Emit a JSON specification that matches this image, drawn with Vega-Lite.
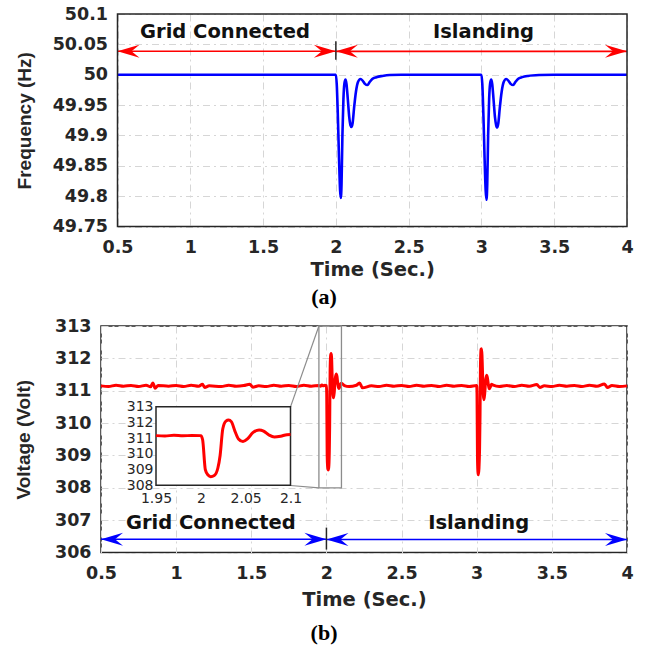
{
  "$schema": "https://vega.github.io/schema/vega-lite/v6.json",
  "background": "white",
  "padding": {"left": 14, "top": 5, "right": 8, "bottom": 5},
  "datasets": {
    "freq": [
      {"t": 0.5, "f": 50.0}, {"t": 2.0, "f": 50.0}, {"t": 2.006, "f": 49.985}, {"t": 2.014, "f": 49.93},
      {"t": 2.022, "f": 49.86}, {"t": 2.029, "f": 49.81}, {"t": 2.034, "f": 49.797}, {"t": 2.039, "f": 49.82},
      {"t": 2.045, "f": 49.9}, {"t": 2.052, "f": 49.96}, {"t": 2.059, "f": 49.986}, {"t": 2.066, "f": 49.992},
      {"t": 2.073, "f": 49.985}, {"t": 2.082, "f": 49.96}, {"t": 2.092, "f": 49.93}, {"t": 2.1, "f": 49.917},
      {"t": 2.107, "f": 49.914}, {"t": 2.115, "f": 49.92}, {"t": 2.125, "f": 49.945}, {"t": 2.138, "f": 49.972},
      {"t": 2.152, "f": 49.988}, {"t": 2.169, "f": 49.993}, {"t": 2.185, "f": 49.99}, {"t": 2.2, "f": 49.985},
      {"t": 2.217, "f": 49.983}, {"t": 2.232, "f": 49.988}, {"t": 2.25, "f": 49.993}, {"t": 2.279, "f": 49.996},
      {"t": 2.32, "f": 49.998}, {"t": 2.37, "f": 49.9995}, {"t": 2.45, "f": 50.0}, {"t": 3.0, "f": 50.0},
      {"t": 3.006, "f": 49.985}, {"t": 3.014, "f": 49.93}, {"t": 3.022, "f": 49.86}, {"t": 3.029, "f": 49.81},
      {"t": 3.035, "f": 49.794}, {"t": 3.04, "f": 49.82}, {"t": 3.046, "f": 49.9}, {"t": 3.053, "f": 49.96},
      {"t": 3.06, "f": 49.986}, {"t": 3.067, "f": 49.992}, {"t": 3.074, "f": 49.985}, {"t": 3.083, "f": 49.96},
      {"t": 3.093, "f": 49.93}, {"t": 3.101, "f": 49.917}, {"t": 3.108, "f": 49.913}, {"t": 3.116, "f": 49.92},
      {"t": 3.126, "f": 49.945}, {"t": 3.139, "f": 49.972}, {"t": 3.153, "f": 49.988}, {"t": 3.17, "f": 49.993},
      {"t": 3.186, "f": 49.99}, {"t": 3.201, "f": 49.985}, {"t": 3.218, "f": 49.983}, {"t": 3.233, "f": 49.988},
      {"t": 3.251, "f": 49.993}, {"t": 3.28, "f": 49.996}, {"t": 3.32, "f": 49.998}, {"t": 3.4, "f": 49.9995},
      {"t": 3.5, "f": 50.0}, {"t": 4.0, "f": 50.0}
    ],
    "volt": [
      {"t": 0.5, "v": 311.15}, {"t": 0.55, "v": 311.13}, {"t": 0.6, "v": 311.17}, {"t": 0.65, "v": 311.14},
      {"t": 0.7, "v": 311.16}, {"t": 0.75, "v": 311.13}, {"t": 0.8, "v": 311.17}, {"t": 0.83, "v": 311.12},
      {"t": 0.845, "v": 311.24}, {"t": 0.86, "v": 311.08}, {"t": 0.88, "v": 311.16}, {"t": 0.95, "v": 311.14},
      {"t": 1.0, "v": 311.16}, {"t": 1.05, "v": 311.13}, {"t": 1.1, "v": 311.17}, {"t": 1.15, "v": 311.14},
      {"t": 1.175, "v": 311.2}, {"t": 1.19, "v": 311.1}, {"t": 1.22, "v": 311.15}, {"t": 1.3, "v": 311.13},
      {"t": 1.35, "v": 311.17}, {"t": 1.4, "v": 311.14}, {"t": 1.45, "v": 311.16}, {"t": 1.49, "v": 311.2},
      {"t": 1.51, "v": 311.11}, {"t": 1.55, "v": 311.15}, {"t": 1.6, "v": 311.13}, {"t": 1.65, "v": 311.17},
      {"t": 1.7, "v": 311.14}, {"t": 1.75, "v": 311.16}, {"t": 1.8, "v": 311.13}, {"t": 1.85, "v": 311.17},
      {"t": 1.9, "v": 311.14}, {"t": 1.95, "v": 311.16}, {"t": 1.96, "v": 311.14}, {"t": 1.97, "v": 311.18},
      {"t": 1.98, "v": 311.15}, {"t": 1.99, "v": 311.17}, {"t": 2.0, "v": 311.16},
      {"t": 2.002, "v": 310.9}, {"t": 2.005, "v": 309.0}, {"t": 2.008, "v": 308.65}, {"t": 2.011, "v": 308.55},
      {"t": 2.015, "v": 308.62}, {"t": 2.019, "v": 309.1}, {"t": 2.0215, "v": 309.9}, {"t": 2.0245, "v": 311.6},
      {"t": 2.028, "v": 312.08}, {"t": 2.031, "v": 312.15}, {"t": 2.034, "v": 312.05}, {"t": 2.038, "v": 311.45},
      {"t": 2.042, "v": 310.95}, {"t": 2.047, "v": 310.78}, {"t": 2.052, "v": 310.95}, {"t": 2.058, "v": 311.35},
      {"t": 2.065, "v": 311.52}, {"t": 2.07, "v": 311.45}, {"t": 2.076, "v": 311.2}, {"t": 2.082, "v": 311.07},
      {"t": 2.089, "v": 311.12}, {"t": 2.096, "v": 311.22}, {"t": 2.1, "v": 311.23}, {"t": 2.12, "v": 311.16},
      {"t": 2.15, "v": 311.13}, {"t": 2.2, "v": 311.17}, {"t": 2.22, "v": 311.24}, {"t": 2.24, "v": 311.09},
      {"t": 2.3, "v": 311.15}, {"t": 2.35, "v": 311.13}, {"t": 2.4, "v": 311.17}, {"t": 2.45, "v": 311.14},
      {"t": 2.5, "v": 311.16}, {"t": 2.55, "v": 311.13}, {"t": 2.6, "v": 311.17}, {"t": 2.65, "v": 311.14},
      {"t": 2.7, "v": 311.16}, {"t": 2.75, "v": 311.13}, {"t": 2.8, "v": 311.17}, {"t": 2.85, "v": 311.14},
      {"t": 2.9, "v": 311.16}, {"t": 2.95, "v": 311.13}, {"t": 3.0, "v": 311.16},
      {"t": 3.002, "v": 310.9}, {"t": 3.005, "v": 309.0}, {"t": 3.008, "v": 308.5}, {"t": 3.011, "v": 308.4},
      {"t": 3.015, "v": 308.6}, {"t": 3.019, "v": 309.2}, {"t": 3.022, "v": 310.2}, {"t": 3.025, "v": 311.8},
      {"t": 3.029, "v": 312.28}, {"t": 3.032, "v": 312.3}, {"t": 3.035, "v": 312.1}, {"t": 3.039, "v": 311.5},
      {"t": 3.043, "v": 310.9}, {"t": 3.048, "v": 310.72}, {"t": 3.053, "v": 310.9}, {"t": 3.059, "v": 311.3},
      {"t": 3.066, "v": 311.48}, {"t": 3.071, "v": 311.4}, {"t": 3.077, "v": 311.2}, {"t": 3.084, "v": 311.06},
      {"t": 3.091, "v": 311.12}, {"t": 3.098, "v": 311.2}, {"t": 3.11, "v": 311.17}, {"t": 3.15, "v": 311.13},
      {"t": 3.2, "v": 311.16}, {"t": 3.25, "v": 311.13}, {"t": 3.3, "v": 311.17}, {"t": 3.35, "v": 311.14},
      {"t": 3.4, "v": 311.19}, {"t": 3.42, "v": 311.1}, {"t": 3.45, "v": 311.15}, {"t": 3.5, "v": 311.13},
      {"t": 3.55, "v": 311.17}, {"t": 3.6, "v": 311.14}, {"t": 3.65, "v": 311.16}, {"t": 3.7, "v": 311.13},
      {"t": 3.75, "v": 311.17}, {"t": 3.8, "v": 311.14}, {"t": 3.85, "v": 311.21}, {"t": 3.87, "v": 311.1},
      {"t": 3.9, "v": 311.16}, {"t": 3.95, "v": 311.13}, {"t": 4.0, "v": 311.15}
    ],
    "frameA": [{"x1": 0.5, "x2": 4, "y1": 49.75, "y2": 50.1}],
    "arrowsA": [{"x1": 0.5, "x2": 2, "y": 50.0387}, {"x1": 2, "x2": 4, "y": 50.0385}],
    "headsA": [
      {"t": 0.5, "v": 50.0387, "dir": "left"}, {"t": 2, "v": 50.0387, "dir": "right"},
      {"t": 2, "v": 50.0385, "dir": "left"}, {"t": 4, "v": 50.0385, "dir": "right"}
    ],
    "dividerA": [{"t": 2, "v1": 50.0246, "v2": 50.0552}],
    "labelsA": [{"t": 1.238, "v": 50.071, "label": "Grid Connected"}, {"t": 3.014, "v": 50.071, "label": "Islanding"}],
    "arrowsB": [{"x1": 0.5, "x2": 2, "y": 306.41}, {"x1": 2, "x2": 4, "y": 306.4}],
    "headsB": [
      {"t": 0.5, "v": 306.41, "dir": "left"}, {"t": 2, "v": 306.41, "dir": "right"},
      {"t": 2, "v": 306.4, "dir": "left"}, {"t": 4, "v": 306.4, "dir": "right"}
    ],
    "dividerB": [{"t": 2, "v1": 306.09, "v2": 306.77}],
    "labelsB": [{"t": 1.231, "v": 306.907, "label": "Grid Connected"}, {"t": 3.013, "v": 306.907, "label": "Islanding"}],
    "zoomBox": [{"x1": 1.95, "x2": 2.1, "y1": 308, "y2": 313}],
    "connectors": [{"x1": 1.95, "y1": 313, "x2": 1.761, "y2": 310.5}, {"x1": 1.95, "y1": 308, "x2": 1.761, "y2": 308.07}]
  },
  "concat": [
    {
      "width": 526,
      "height": 212.5,
      "view": {"stroke": null},
      "title": {"text": "(a)", "orient": "bottom", "font": "Liberation Serif", "fontSize": 22, "fontWeight": "bold", "color": "#000000", "anchor": "middle", "frame": "bounds", "offset": 8},
      "layer": [
        {
          "data": {"name": "freq"},
          "mark": {"type": "line", "color": "#0000ff", "strokeWidth": 2.6, "interpolate": "monotone"},
          "encoding": {
            "x": {"field": "t", "type": "quantitative", "scale": {"domain": [0.5, 4], "range": [16.5, 526], "nice": false, "zero": false},
                  "axis": {"title": "Time (Sec.)", "values": [0.5, 1, 1.5, 2, 2.5, 3, 3.5, 4], "tickCount": 20, "format": "~g", "labelOverlap": false, "labelFlush": false, "titlePadding": 4}},
            "y": {"field": "f", "type": "quantitative", "scale": {"domain": [49.75, 50.1], "nice": false, "zero": false},
                  "axis": {"title": "Frequency (Hz)", "offset": -16.5, "values": [49.75, 49.8, 49.85, 49.9, 49.95, 50, 50.05, 50.1], "tickCount": 20, "format": "~g", "labelOverlap": false, "titlePadding": 18}}
          }
        },
        {
          "data": {"name": "arrowsA"},
          "mark": {"type": "rule", "color": "#ff0000", "strokeWidth": 1.6},
          "encoding": {"x": {"field": "x1", "type": "quantitative"}, "x2": {"field": "x2"}, "y": {"field": "y", "type": "quantitative"}}
        },
        {
          "data": {"name": "dividerA"},
          "mark": {"type": "rule", "color": "#262626", "strokeWidth": 1.5},
          "encoding": {"x": {"field": "t", "type": "quantitative"}, "y": {"field": "v1", "type": "quantitative"}, "y2": {"field": "v2"}}
        },
        {
          "data": {"name": "headsA"},
          "mark": {"type": "point", "filled": true, "color": "#ff0000", "opacity": 1, "size": 4, "strokeWidth": 0},
          "encoding": {
            "x": {"field": "t", "type": "quantitative"},
            "y": {"field": "v", "type": "quantitative"},
            "shape": {"field": "dir", "type": "nominal", "legend": null,
                      "scale": {"domain": ["left", "right"], "range": ["M0,0L22,-6.5L14,0L22,6.5Z", "M0,0L-22,-6.5L-14,0L-22,6.5Z"]}}
          }
        },
        {
          "data": {"name": "labelsA"},
          "mark": {"type": "text", "font": "DejaVu Sans", "fontWeight": "bold", "fontSize": 19.5, "color": "#111111", "align": "center", "baseline": "middle"},
          "encoding": {"x": {"field": "t", "type": "quantitative"}, "y": {"field": "v", "type": "quantitative"}, "text": {"field": "label"}}
        },
        {
          "data": {"name": "frameA"},
          "mark": {"type": "rect", "fill": null, "fillOpacity": 0, "stroke": "#262626", "strokeWidth": 1.5},
          "encoding": {"x": {"field": "x1", "type": "quantitative"}, "x2": {"field": "x2"}, "y": {"field": "y1", "type": "quantitative"}, "y2": {"field": "y2"}}
        }
      ]
    },
    {
      "width": 526,
      "height": 226.5,
      "title": {"text": "(b)", "orient": "bottom", "font": "Liberation Serif", "fontSize": 22, "fontWeight": "bold", "color": "#000000", "anchor": "middle", "frame": "bounds", "offset": 14},
      "layer": [
        {
          "layer": [
            {
              "data": {"name": "volt"},
              "mark": {"type": "line", "color": "#ff0000", "strokeWidth": 3, "interpolate": "monotone"},
              "encoding": {
                "x": {"field": "t", "type": "quantitative", "scale": {"domain": [0.5, 4], "nice": false, "zero": false},
                      "axis": {"title": "Time (Sec.)", "orient": "bottom", "values": [0.5, 1, 1.5, 2, 2.5, 3, 3.5, 4], "tickCount": 20, "format": "~g", "labelOverlap": false, "labelFlush": false, "titlePadding": 8.5}},
                "y": {"field": "v", "type": "quantitative", "scale": {"domain": [306, 313], "nice": false, "zero": false},
                      "axis": {"title": "Voltage (Volt)", "orient": "left", "values": [306, 307, 308, 309, 310, 311, 312, 313], "tickCount": 20, "format": "~g", "labelOverlap": false, "titlePadding": 20.5}}
              }
            },
            {
              "data": {"name": "zoomBox"},
              "mark": {"type": "rect", "fill": null, "fillOpacity": 0, "stroke": "#8c8c8c", "strokeWidth": 1.3},
              "encoding": {"x": {"field": "x1", "type": "quantitative"}, "x2": {"field": "x2"}, "y": {"field": "y1", "type": "quantitative"}, "y2": {"field": "y2"}}
            },
            {
              "data": {"name": "connectors"},
              "mark": {"type": "rule", "color": "#8c8c8c", "strokeWidth": 1.2},
              "encoding": {"x": {"field": "x1", "type": "quantitative"}, "x2": {"field": "x2"}, "y": {"field": "y1", "type": "quantitative"}, "y2": {"field": "y2"}}
            },
            {
              "data": {"name": "arrowsB"},
              "mark": {"type": "rule", "color": "#0000ff", "strokeWidth": 1.6},
              "encoding": {"x": {"field": "x1", "type": "quantitative"}, "x2": {"field": "x2"}, "y": {"field": "y", "type": "quantitative"}}
            },
            {
              "data": {"name": "dividerB"},
              "mark": {"type": "rule", "color": "#262626", "strokeWidth": 1.5},
              "encoding": {"x": {"field": "t", "type": "quantitative"}, "y": {"field": "v1", "type": "quantitative"}, "y2": {"field": "v2"}}
            },
            {
              "data": {"name": "headsB"},
              "mark": {"type": "point", "filled": true, "color": "#0000ff", "opacity": 1, "size": 4, "strokeWidth": 0},
              "encoding": {
                "x": {"field": "t", "type": "quantitative"},
                "y": {"field": "v", "type": "quantitative"},
                "shape": {"field": "dir", "type": "nominal", "legend": null,
                          "scale": {"domain": ["left", "right"], "range": ["M0,0L22,-6.5L14,0L22,6.5Z", "M0,0L-22,-6.5L-14,0L-22,6.5Z"]}}
              }
            },
            {
              "data": {"name": "labelsB"},
              "mark": {"type": "text", "font": "DejaVu Sans", "fontWeight": "bold", "fontSize": 19.5, "color": "#111111", "align": "center", "baseline": "middle"},
              "encoding": {"x": {"field": "t", "type": "quantitative"}, "y": {"field": "v", "type": "quantitative"}, "text": {"field": "label"}}
            }
          ]
        },
        {
          "layer": [
            {
              "data": {"name": "zoomBox"},
              "mark": {"type": "rect", "fill": "#ffffff", "stroke": "#262626", "strokeWidth": 1.5},
              "encoding": {
                "x": {"field": "x1", "type": "quantitative", "scale": {"domain": [1.95, 2.1], "range": [55, 189.5], "nice": false, "zero": false},
                      "axis": {"orient": "bottom", "offset": -67, "title": null, "values": [1.95, 2, 2.05, 2.1], "tickCount": 20, "format": "~g", "grid": false, "labelOverlap": false, "labelFlush": false,
                               "labelFont": "DejaVu Sans", "labelFontWeight": "normal", "labelFontSize": 14, "labelPadding": 6}},
                "x2": {"field": "x2"},
                "y": {"field": "y1", "type": "quantitative", "scale": {"domain": [308, 313], "range": [159.3, 80.7], "nice": false, "zero": false},
                      "axis": {"orient": "left", "offset": -55, "title": null, "values": [308, 309, 310, 311, 312, 313], "tickCount": 20, "format": "~g", "grid": false, "labelOverlap": false,
                               "labelFont": "DejaVu Sans", "labelFontWeight": "normal", "labelFontSize": 14, "labelPadding": 3}},
                "y2": {"field": "y2"}
              }
            },
            {
              "data": {"name": "volt"},
              "transform": [{"filter": {"field": "t", "range": [1.95, 2.1]}}],
              "mark": {"type": "line", "color": "#ff0000", "strokeWidth": 3, "interpolate": "monotone"},
              "encoding": {
                "x": {"field": "t", "type": "quantitative"},
                "y": {"field": "v", "type": "quantitative"}
              }
            }
          ]
        }
      ],
      "resolve": {"scale": {"x": "independent", "y": "independent"}, "axis": {"x": "independent", "y": "independent"}}
    }
  ],
  "columns": 1,
  "spacing": 8,
  "config": {
    "view": {"stroke": "#262626", "strokeWidth": 1.5},
    "axis": {
      "domain": false,
      "ticks": false,
      "grid": true,
      "gridColor": "#d6d6d6",
      "gridWidth": 1,
      "gridDash": [7, 4, 2, 4],
      "labelFont": "DejaVu Sans",
      "labelFontWeight": "bold",
      "labelFontSize": 17.5,
      "labelColor": "#262626",
      "labelFlush": false,
      "labelOverlap": false,
      "titleFont": "DejaVu Sans",
      "titleFontWeight": "bold",
      "titleFontSize": 19.5,
      "titleColor": "#262626"
    },
    "axisX": {"labelPadding": 12},
    "axisY": {"labelPadding": 10, "titleFont": "Liberation Sans", "titleFontSize": 19}
  }
}
